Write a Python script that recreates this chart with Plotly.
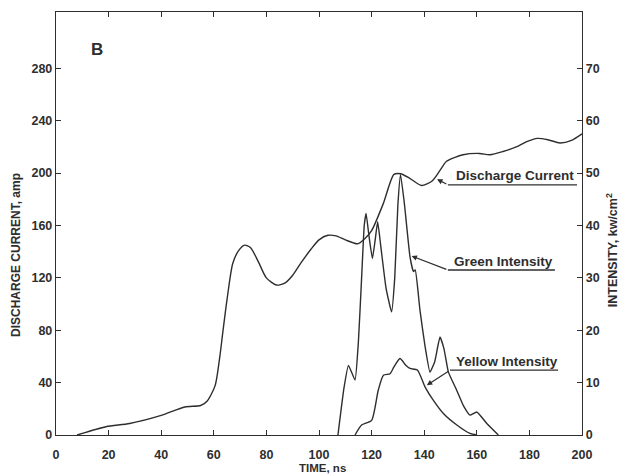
import plotly.graph_objects as go

# ---- data ----
current_t = [8, 19, 28, 40, 49, 55, 57.5, 60.5, 62.3, 63.4, 65, 67.2, 69.5, 71.7, 74, 77, 80,
             83.8, 87, 90, 93, 97, 100, 103.4, 106.5, 110, 114.7, 117.5, 120, 124.5, 128.5,
             131, 134.5, 139, 143, 146, 148.5, 154.8, 161, 165, 170, 175, 179, 183, 187,
             191.6, 196, 200]
current_a = [0, 6.3, 8.8, 15, 21.4, 22.5, 26, 37.7, 60, 78, 103, 131, 141, 145, 143, 132, 120,
             114.5, 116, 122, 131, 142, 149, 152.5, 152, 149, 146, 150, 156, 177, 199,
             199.5, 196, 190.5, 194, 202, 209, 214, 215, 214, 216.5, 220, 224, 226.5, 225.5,
             223, 225, 230]

green_t = [107.2, 109.5, 111.2, 113.7, 115, 116.2, 117.2, 117.9, 119, 120.3, 121.3, 122.3,
           123.5, 125.5, 127.6, 128.8, 130, 131, 132.5, 134.6, 135.9, 136.6, 138.4, 140.3,
           142.2, 144, 146, 147.5, 149.2, 152.4, 155, 157.4, 160, 163.8, 168.2]
green_i = [0, 9, 13.3, 10.5, 18, 30, 40, 42.3, 38, 33.7, 37, 40.7, 36, 28, 23.5, 30, 44, 49.7,
           44, 34, 31.2, 31.5, 23.8, 17, 12, 14, 18.7, 16.5, 12, 8.5, 5.5, 3.8, 4.4, 2.2, 0]

yellow_t = [113.7, 116.2, 120, 122.5, 124.5, 127, 128.5, 130.8, 133, 134.6, 137.4, 140.3,
            143.5, 147.3, 152.4, 157.4, 160]
yellow_i = [0, 1.9, 2.8, 8.5, 11.4, 11.7, 13, 14.6, 13.3, 12.7, 12.4, 9.2, 6.6, 4.1, 1.9,
            0.3, 0]

x_ticks = [0, 20, 40, 60, 80, 100, 120, 140, 160, 180, 200]
amp_ticks = [0, 40, 80, 120, 160, 200, 240, 280]
int_ticks = [0, 10, 20, 30, 40, 50, 60, 70]

labels = ["Discharge Current", "Green Intensity", "Yellow Intensity"]

INK = "#2e2e2e"
FONT = "Liberation Sans"
AMP_MAX = 323.0

fig = go.Figure()
fig.add_trace(go.Scatter(x=current_t, y=current_a, mode="lines", yaxis="y",
                         line=dict(color=INK, width=1.4, shape="spline", smoothing=0.7),
                         showlegend=False))
fig.add_trace(go.Scatter(x=green_t, y=green_i, mode="lines", yaxis="y2",
                         line=dict(color=INK, width=1.4, shape="spline", smoothing=0.4),
                         showlegend=False))
fig.add_trace(go.Scatter(x=yellow_t, y=yellow_i, mode="lines", yaxis="y2",
                         line=dict(color=INK, width=1.4, shape="spline", smoothing=0.6),
                         showlegend=False))

# label callouts: (head x, head amp), (tail x, tail amp), underline end x, text x, text amp
callouts = [
    ((144.9, 195.3), (149.0, 191.0), 198.1, 174.5, 197.8),
    ((135.2, 136.7), (149.0, 126.0), 189.7, 170.3, 132.8),
    ((141.0, 38.0), (149.8, 49.5), 190.9, 171.3, 56.3),
]
annotations = []
shapes = []
for lab, (head, tail, uend, tx, ty) in zip(labels, callouts):
    annotations.append(dict(x=head[0], y=head[1], xref="x", yref="y",
                            ax=tail[0], ay=tail[1], axref="x", ayref="y",
                            text="", showarrow=True, arrowhead=2, arrowsize=0.9,
                            arrowwidth=1.2, arrowcolor=INK))
    shapes.append(dict(type="line", xref="x", yref="y", x0=tail[0], x1=uend,
                       y0=tail[1], y1=tail[1], line=dict(color=INK, width=1.3)))
    annotations.append(dict(x=tx, y=ty, xref="x", yref="y", text=lab, showarrow=False,
                            xanchor="center", yanchor="middle",
                            font=dict(family=FONT, size=13.5, color=INK, weight="bold")))

annotations.append(dict(x=15.5, y=294, xref="x", yref="y", text="B", showarrow=False,
                        xanchor="center", yanchor="middle",
                        font=dict(family=FONT, size=17, color=INK, weight="bold")))
annotations.append(dict(x=-0.076, y=0.4255, xref="paper", yref="paper",
                        xanchor="center", yanchor="middle",
                        text="DISCHARGE CURRENT, amp", textangle=-90, showarrow=False,
                        font=dict(family=FONT, size=12, color=INK, weight="bold")))
annotations.append(dict(x=1.057, y=0.437, xref="paper", yref="paper",
                        xanchor="center", yanchor="middle",
                        text="INTENSITY, kw/cm<sup>2</sup>", textangle=-90, showarrow=False,
                        font=dict(family=FONT, size=12.5, color=INK, weight="bold")))
annotations.append(dict(x=0.506, y=-0.078, xref="paper", yref="paper",
                        xanchor="center", yanchor="middle",
                        text="TIME, ns", showarrow=False,
                        font=dict(family=FONT, size=11.5, color=INK, weight="bold")))

tickfont = dict(family=FONT, size=12.5, color=INK, weight="bold")
fig.update_layout(
    width=622, height=476,
    margin=dict(l=56, r=40, t=12, b=41),
    paper_bgcolor="white", plot_bgcolor="white",
    font=dict(family=FONT, color=INK),
    xaxis=dict(range=[0, 200], tickvals=x_ticks, ticktext=[str(v) for v in x_ticks],
               showline=True, linecolor=INK, linewidth=1.4, mirror="ticks",
               ticks="inside", ticklen=5, tickwidth=1.2, tickcolor=INK,
               showgrid=False, zeroline=False, tickfont=tickfont, ticklabelstandoff=8),
    yaxis=dict(range=[0, AMP_MAX], tickvals=amp_ticks, ticktext=[str(v) for v in amp_ticks],
               showline=True, linecolor=INK, linewidth=1.4,
               ticks="inside", ticklen=5, tickwidth=1.2, tickcolor=INK,
               showgrid=False, zeroline=False, tickfont=tickfont),
    yaxis2=dict(range=[0, AMP_MAX / 4], tickvals=int_ticks, ticktext=[str(v) for v in int_ticks],
                overlaying="y", side="right",
                showline=True, linecolor=INK, linewidth=1.4,
                ticks="inside", ticklen=5, tickwidth=1.2, tickcolor=INK,
                showgrid=False, zeroline=False, tickfont=tickfont),
    annotations=annotations,
    shapes=shapes,
)

fig.write_html("out.html")
